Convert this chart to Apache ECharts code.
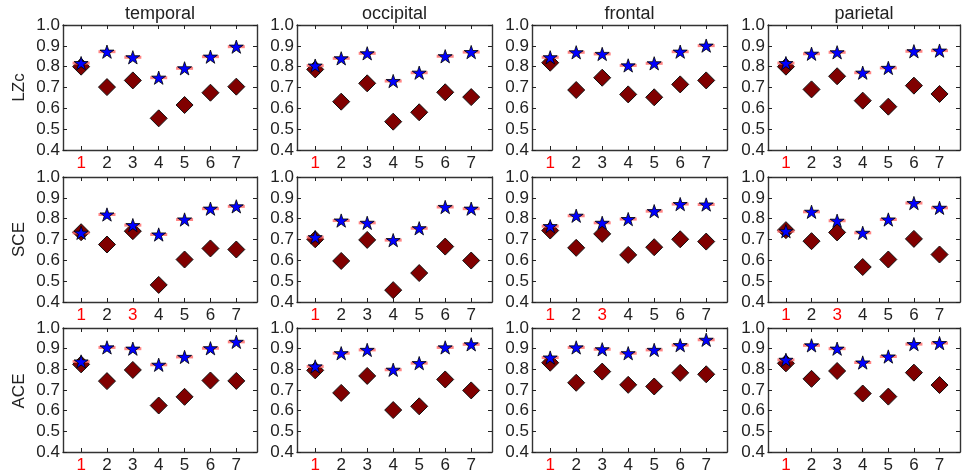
<!DOCTYPE html>
<html><head><meta charset="utf-8">
<script src="https://cdn.jsdelivr.net/npm/echarts@6/dist/echarts.min.js"></script>
<style>html,body{margin:0;padding:0;background:#fff}#c{width:966px;height:474px}</style>
</head><body><div id="c"></div>
<script>
const regions = ['temporal', 'occipital', 'frontal', 'parietal'];
const measures = ['LZc', 'SCE', 'ACE'];
const xTicks = [1, 2, 3, 4, 5, 6, 7];

// red tick labels per measure, per region
const redLZc = [[1], [1], [1], [1]];
const redSCE = [[1, 3], [1], [1, 3], [1, 3]];
const redACE = [[1], [1], [1], [1]];

// LZc
const lzcTemporalStar     = [0.817, 0.872, 0.845, 0.747, 0.792, 0.848, 0.896];
const lzcTemporalDiamond  = [0.800, 0.702, 0.734, 0.552, 0.616, 0.675, 0.704];
const lzcOccipitalStar    = [0.805, 0.840, 0.864, 0.731, 0.771, 0.850, 0.870];
const lzcOccipitalDiamond = [0.787, 0.632, 0.720, 0.536, 0.581, 0.677, 0.654];
const lzcFrontalStar      = [0.845, 0.869, 0.861, 0.806, 0.816, 0.872, 0.901];
const lzcFrontalDiamond   = [0.819, 0.688, 0.747, 0.667, 0.653, 0.715, 0.734];
const lzcParietalStar     = [0.817, 0.862, 0.869, 0.771, 0.794, 0.874, 0.877];
const lzcParietalDiamond  = [0.800, 0.691, 0.754, 0.637, 0.608, 0.709, 0.669];
// SCE
const sceTemporalStar     = [0.732, 0.820, 0.769, 0.724, 0.796, 0.848, 0.859];
const sceTemporalDiamond  = [0.735, 0.676, 0.740, 0.482, 0.604, 0.657, 0.652];
const sceOccipitalStar    = [0.711, 0.791, 0.780, 0.697, 0.754, 0.856, 0.848];
const sceOccipitalDiamond = [0.701, 0.597, 0.698, 0.457, 0.539, 0.666, 0.599];
const sceFrontalStar      = [0.764, 0.814, 0.780, 0.798, 0.836, 0.870, 0.868];
const sceFrontalDiamond   = [0.743, 0.660, 0.727, 0.626, 0.663, 0.701, 0.690];
const sceParietalStar     = [0.740, 0.833, 0.790, 0.732, 0.796, 0.875, 0.852];
const sceParietalDiamond  = [0.745, 0.692, 0.734, 0.568, 0.604, 0.703, 0.628];
// ACE
const aceTemporalStar     = [0.838, 0.906, 0.900, 0.822, 0.860, 0.902, 0.933];
const aceTemporalDiamond  = [0.824, 0.743, 0.797, 0.625, 0.667, 0.746, 0.744];
const aceOccipitalStar    = [0.814, 0.878, 0.894, 0.798, 0.830, 0.906, 0.921];
const aceOccipitalDiamond = [0.795, 0.686, 0.768, 0.603, 0.621, 0.751, 0.698];
const aceFrontalStar      = [0.857, 0.906, 0.897, 0.878, 0.894, 0.917, 0.943];
const aceFrontalDiamond   = [0.832, 0.735, 0.789, 0.725, 0.717, 0.783, 0.776];
const aceParietalStar     = [0.846, 0.916, 0.900, 0.833, 0.862, 0.922, 0.927];
const aceParietalDiamond  = [0.829, 0.754, 0.792, 0.683, 0.668, 0.784, 0.724];

const starRows = [
  [lzcTemporalStar, lzcOccipitalStar, lzcFrontalStar, lzcParietalStar],
  [sceTemporalStar, sceOccipitalStar, sceFrontalStar, sceParietalStar],
  [aceTemporalStar, aceOccipitalStar, aceFrontalStar, aceParietalStar]
];
const diamondRows = [
  [lzcTemporalDiamond, lzcOccipitalDiamond, lzcFrontalDiamond, lzcParietalDiamond],
  [sceTemporalDiamond, sceOccipitalDiamond, sceFrontalDiamond, sceParietalDiamond],
  [aceTemporalDiamond, aceOccipitalDiamond, aceFrontalDiamond, aceParietalDiamond]
];
const redRows = [redLZc, redSCE, redACE];

const FONT = "'Liberation Sans', Arial, sans-serif";
const colLeft = [63, 297, 532, 768];
const colWidth = [194, 195, 195, 192];
const rowTop = [25, 177, 328];
const rowHeight = [125, 125, 126];
const AX = '#222';

function starPath() {
  const pts = [];
  for (let i = 0; i < 10; i++) {
    const r = i % 2 ? 0.382 : 1;
    const a = -Math.PI / 2 + i * Math.PI / 5;
    pts.push((r * Math.cos(a)).toFixed(4) + ',' + (r * Math.sin(a)).toFixed(4));
  }
  return 'path://M' + pts.join('L') + 'Z';
}
const STAR = starPath();

const grids = [], xAxes = [], yAxes = [], series = [], graphics = [];
for (let r = 0; r < 3; r++) {
  for (let c = 0; c < 4; c++) {
    const g = r * 4 + c;
    grids.push({ left: colLeft[c], top: rowTop[r], width: colWidth[c], height: rowHeight[r], containLabel: false });
    const red = redRows[r][c];
    const lineStyle = { color: '#333', width: 1.4 };
    const baseX = {
      gridIndex: g, type: 'value', min: 0.3, max: 7.8,
      axisLine: { show: true, onZero: false, lineStyle },
      splitLine: { show: false },
      axisTick: { show: true, inside: true, length: 4, customValues: xTicks, lineStyle: { color: AX, width: 1 } }
    };
    xAxes.push(Object.assign({}, baseX, {
      position: 'bottom',
      axisLabel: {
        customValues: xTicks, fontSize: 17, fontFamily: FONT, margin: 5,
        color: (v) => red.includes(Math.round(Number(v))) ? '#ff0000' : AX,
        formatter: (v) => String(Math.round(v))
      }
    }));
    xAxes.push(Object.assign({}, baseX, { position: 'top', axisLabel: { show: false } }));
    const baseY = {
      gridIndex: g, type: 'value', min: 0.4, max: 1.0, interval: 0.1,
      axisLine: { show: true, onZero: false, lineStyle },
      splitLine: { show: false },
      axisTick: { show: true, inside: true, length: 4, lineStyle: { color: AX, width: 1 } }
    };
    yAxes.push(Object.assign({}, baseY, {
      position: 'left',
      axisLabel: { fontSize: 17, fontFamily: FONT, color: AX, margin: 3, formatter: (v) => Number(v).toFixed(1) }
    }));
    yAxes.push(Object.assign({}, baseY, { position: 'right', axisLabel: { show: false } }));

    const xi = g * 2, yi = g * 2;
    const dia = diamondRows[r][c].map((v, i) => [xTicks[i], v]);
    const st = starRows[r][c].map((v, i) => [xTicks[i], v]);
    series.push({
      type: 'scatter', xAxisIndex: xi, yAxisIndex: yi, data: dia,
      symbol: 'diamond', symbolSize: [17, 17],
      itemStyle: { color: '#800000', borderColor: '#111', borderWidth: 1, opacity: 1 },
      z: 2, silent: true, animation: false
    });
    series.push({
      type: 'scatter', xAxisIndex: xi, yAxisIndex: yi, data: st,
      symbol: 'rect', symbolSize: [17, 3],
      itemStyle: { color: '#ff6666', opacity: 0.8 },
      z: 3, silent: true, animation: false
    });
    series.push({
      type: 'scatter', xAxisIndex: xi, yAxisIndex: yi, data: st,
      symbol: STAR, symbolSize: [14, 13.3],
      itemStyle: { color: '#0000ff', borderColor: '#000', borderWidth: 0.8, opacity: 1 },
      z: 4, silent: true, animation: false
    });
  }
}
for (let c = 0; c < 4; c++) {
  graphics.push({
    type: 'text', x: colLeft[c] + colWidth[c] / 2, y: 14,
    style: { text: regions[c], font: '18px ' + FONT, fill: AX, textAlign: 'center', textVerticalAlign: 'middle' }
  });
}
for (let r = 0; r < 3; r++) {
  graphics.push({
    type: 'text', x: 19, y: rowTop[r] + rowHeight[r] / 2, rotation: Math.PI / 2,
    style: { text: measures[r], font: '17px ' + FONT, fill: AX, textAlign: 'center', textVerticalAlign: 'middle' }
  });
}

const chart = echarts.init(document.getElementById('c'), null, { renderer: 'canvas' });
chart.setOption({
  backgroundColor: '#fff',
  animation: false,
  grid: grids, xAxis: xAxes, yAxis: yAxes, series, graphic: graphics
});
</script></body></html>
